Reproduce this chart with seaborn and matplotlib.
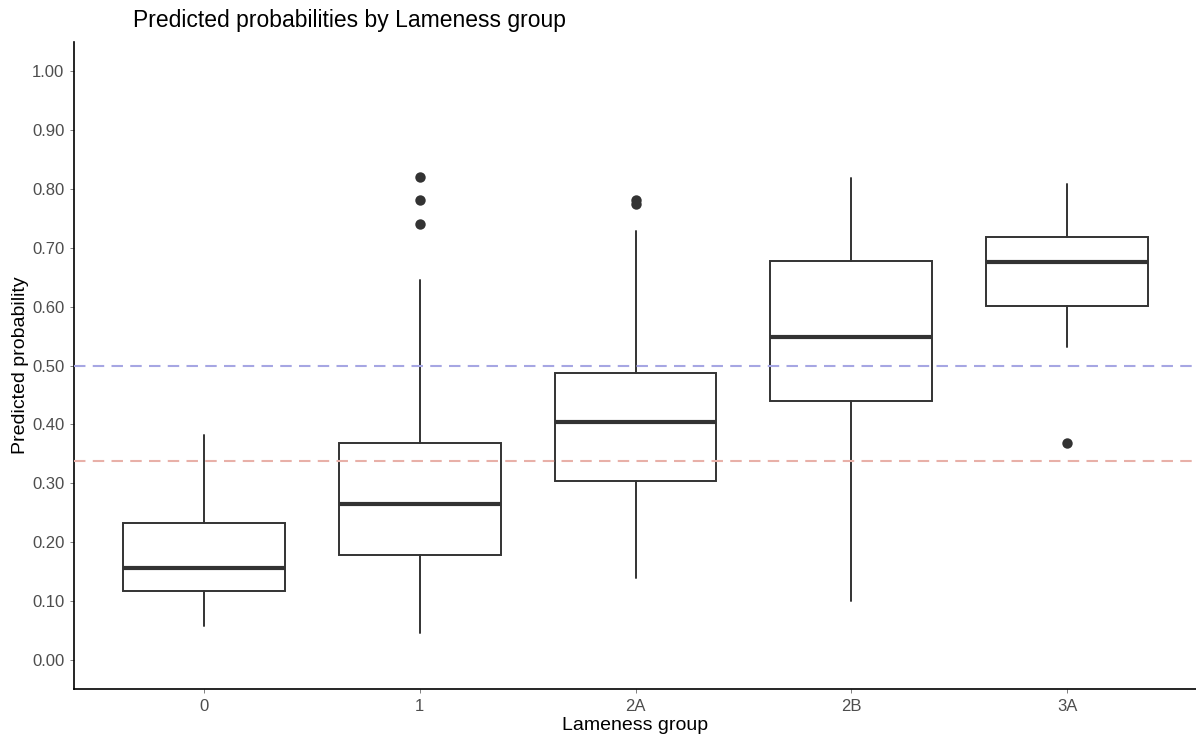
import matplotlib
matplotlib.use("Agg")
import matplotlib.pyplot as plt
import pandas as pd
import seaborn as sns

# Box summary statistics per lameness group
groups = ["0", "1", "2A", "2B", "3A"]
whisker_low = [0.057, 0.046, 0.138, 0.100, 0.531]
q1 = [0.116, 0.177, 0.304, 0.439, 0.601]
median = [0.156, 0.265, 0.404, 0.548, 0.676]
q3 = [0.233, 0.368, 0.487, 0.677, 0.719]
whisker_high = [0.381, 0.646, 0.728, 0.819, 0.808]

# Points beyond the whiskers
outlier_group = ["1", "1", "1", "2A", "2A", "3A"]
outlier_value = [0.741, 0.781, 0.821, 0.774, 0.781, 0.368]

# Reference lines
threshold_value = 0.50
prevalence_value = 0.338

y_ticks = [0.0, 0.1, 0.2, 0.3, 0.4, 0.5, 0.6, 0.7, 0.8, 0.9, 1.0]
y_tick_labels = ["0.00", "0.10", "0.20", "0.30", "0.40", "0.50",
                 "0.60", "0.70", "0.80", "0.90", "1.00"]

sns.set_theme(style="ticks")
plt.rcParams["font.family"] = ["Liberation Sans", "DejaVu Sans"]

W, H = 1196, 738
fig = plt.figure(figsize=(W / 100, H / 100), dpi=100)
ax = fig.add_axes([74 / W, 1 - 689 / H, 1123 / W, 647 / H])

line_col = "#333333"
stats = []
for i, g in enumerate(groups):
    stats.append(dict(label=g, whislo=whisker_low[i], q1=q1[i], med=median[i],
                      q3=q3[i], whishi=whisker_high[i], fliers=[]))

ax.bxp(stats, positions=list(range(len(groups))), widths=0.75,
       showcaps=False, showfliers=False, patch_artist=True,
       boxprops=dict(facecolor="white", edgecolor=line_col, linewidth=1.4),
       whiskerprops=dict(color=line_col, linewidth=1.4),
       medianprops=dict(color=line_col, linewidth=3.0, solid_capstyle="butt"),
       zorder=2)

out_df = pd.DataFrame({"group": outlier_group, "value": outlier_value})
sns.stripplot(data=out_df, x="group", y="value", order=groups, jitter=False,
              color=line_col, size=7.5, linewidth=0, ax=ax, zorder=3)

ax.axhline(threshold_value, color="#a6a6e3", linewidth=1.5,
           dashes=(5.5, 3.5), zorder=4)
ax.axhline(prevalence_value, color="#e8b0a8", linewidth=1.5,
           dashes=(5.5, 3.5), zorder=4)

ax.set_xlim(-0.6, len(groups) - 0.4)
ax.set_ylim(-0.05, 1.05)
ax.set_xticks(list(range(len(groups))))
ax.set_xticklabels(groups)
ax.set_yticks(y_ticks)
ax.set_yticklabels(y_tick_labels)

sns.despine(ax=ax)
for s in ("left", "bottom"):
    ax.spines[s].set_color("black")
    ax.spines[s].set_linewidth(1.2)

ax.tick_params(axis="both", length=3, width=0.7, color="#7f7f7f",
               labelcolor="#4d4d4d", labelsize=12, pad=4)

ax.set_xlabel("Lameness group", fontsize=14, color="black")
ax.set_ylabel("Predicted probability", fontsize=14, color="black")
ax.xaxis.set_label_coords(0.5, (689 - 726) / 647)
ax.xaxis.label.set_va("center")
ax.yaxis.set_label_coords((21 - 74) / 1123, 0.5)
ax.yaxis.label.set_va("center")

fig.text(133 / W, 1 - 20 / H, "Predicted probabilities by Lameness group",
         ha="left", va="center", fontsize=16.5, color="black")

fig.savefig("out.png", dpi=100, facecolor="white")
